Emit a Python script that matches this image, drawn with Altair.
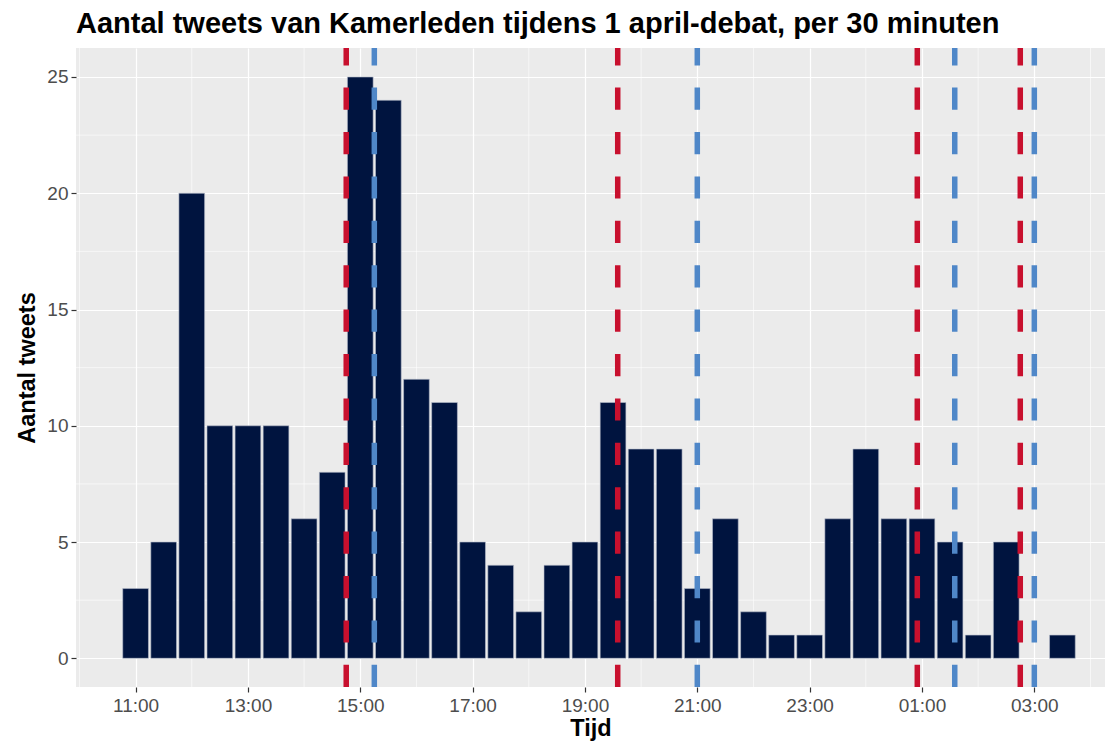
import altair as alt
import pandas as pd

# ---- data ----
bin_times = ["11:00", "11:30", "12:00", "12:30", "13:00", "13:30", "14:00", "14:30",
             "15:00", "15:30", "16:00", "16:30", "17:00", "17:30", "18:00", "18:30",
             "19:00", "19:30", "20:00", "20:30", "21:00", "21:30", "22:00", "22:30",
             "23:00", "23:30", "00:00", "00:30", "01:00", "01:30", "02:00", "02:30",
             "03:00", "03:30"]
tweet_counts = [3, 5, 20, 10, 10, 10, 6, 8,
                25, 24, 12, 11, 5, 4, 2, 4,
                5, 11, 9, 9, 3, 6, 2, 1,
                1, 6, 9, 6, 6, 5, 1, 5,
                0, 1]
red_times = ["14:45", "19:35", "00:55", "02:45"]
blue_times = ["15:15", "21:00", "01:35", "03:00"]
x_tick_labels = ["11:00", "13:00", "15:00", "17:00", "19:00", "21:00", "23:00", "01:00", "03:00"]
x_minor_labels = ["10:00", "12:00", "14:00", "16:00", "18:00", "20:00", "22:00", "00:00", "02:00", "04:00"]
y_ticks = [0, 5, 10, 15, 20, 25]
y_minor = [2.5, 7.5, 12.5, 17.5, 22.5]

TITLE = "Aantal tweets van Kamerleden tijdens 1 april-debat, per 30 minuten"


def to_hours(t):
    hh, mm = t.split(":")
    h = int(hh) + int(mm) / 60.0
    if h < 10:
        h += 24
    return h


BIN = 0.5
GAP = 0.021  # half of visual gap between bars, in hours
bars = pd.DataFrame({
    "tijd": bin_times,
    "n": tweet_counts,
})
bars["h"] = bars["tijd"].map(to_hours)
bars["x0"] = bars["h"] - BIN / 2 + GAP
bars["x1"] = bars["h"] + BIN / 2 - GAP
bars = bars[bars["n"] > 0]

red = pd.DataFrame({"h": [to_hours(t) for t in red_times]})
blue = pd.DataFrame({"h": [to_hours(t) for t in blue_times]})
xminor = pd.DataFrame({"h": [to_hours(t) for t in x_minor_labels]})
yminor = pd.DataFrame({"v": y_minor})

PAD_L, PAD_T = 68, 40
W, H = 1029, 639
PX_PER_H = 56.17
X0 = 9.939
FONT = "Liberation Sans"

xscale = alt.Scale(domain=[X0, X0 + W / PX_PER_H], nice=False, zero=False)
yscale = alt.Scale(domain=[-1.234, 26.247], nice=False, zero=False)

x_axis = alt.Axis(
    values=[to_hours(t) for t in x_tick_labels],
    labelExpr="(datum.value % 24 < 10 ? '0' : '') + (datum.value % 24) + ':00'",
    title="Tijd",
    grid=True,
)
y_axis = alt.Axis(values=y_ticks, title="Aantal tweets", grid=True)

minor_x = alt.Chart(xminor).mark_rule(color="white", strokeWidth=0.6).encode(
    x=alt.X("h:Q", scale=xscale, axis=x_axis),
)
minor_y = alt.Chart(yminor).mark_rule(color="white", strokeWidth=0.6).encode(
    y=alt.Y("v:Q", scale=yscale, axis=y_axis),
)

bar_layer = alt.Chart(bars).mark_bar(
    color="#00143F", stroke="#B9BFCC", strokeWidth=0.6
).encode(
    x=alt.X("x0:Q", scale=xscale, axis=x_axis),
    x2="x1:Q",
    y=alt.Y("n:Q", scale=yscale, axis=y_axis),
    y2=alt.datum(0),
)

red_layer = alt.Chart(red).mark_rule(
    color="#C8102E", strokeWidth=5.5, strokeDash=[22.2, 22.2]
).encode(
    x=alt.X("h:Q", scale=xscale),
    y=alt.value(H),
    y2=alt.value(0),
)
blue_layer = alt.Chart(blue).mark_rule(
    color="#4F87C8", strokeWidth=5.5, strokeDash=[22.2, 22.2]
).encode(
    x=alt.X("h:Q", scale=xscale),
    y=alt.value(H),
    y2=alt.value(0),
)

chart = alt.layer(minor_x, minor_y, bar_layer, red_layer, blue_layer).properties(
    width=W,
    height=H,
    title=alt.TitleParams(TITLE, anchor="start", frame="group", fontSize=29,
                          fontWeight="bold", color="black", font=FONT, offset=6),
    autosize=alt.AutoSizeParams(type="none"),
    padding={"left": PAD_L, "top": PAD_T, "right": 0, "bottom": 56},
).configure_view(
    fill="#EBEBEB", stroke=None
).configure_axis(
    domain=False,
    gridColor="white",
    gridWidth=1.2,
    tickColor="#333333",
    tickSize=5,
    tickWidth=1.2,
    labelColor="#4D4D4D",
    labelFontSize=19,
    labelFont=FONT,
    titleFont=FONT,
    titleFontSize=23.5,
    titleFontWeight="bold",
    titleColor="black",
).configure_axisX(
    labelPadding=4,
    titlePadding=1,
    labelFlush=False,
).configure_axisY(
    labelPadding=3,
    titlePadding=7,
)

chart.save("out.html", embed_options={"renderer": "svg", "actions": False})
